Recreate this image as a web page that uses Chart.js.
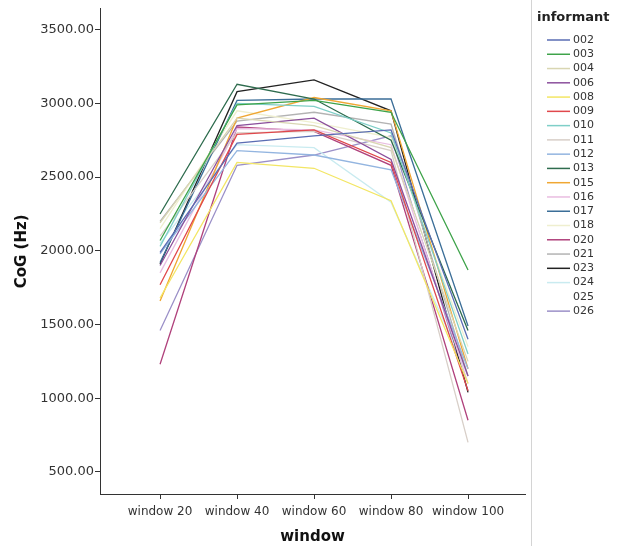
<!DOCTYPE html>
<html>
<head>
<meta charset="utf-8">
<script src="https://cdn.jsdelivr.net/npm/chart.js@4/dist/chart.umd.min.js"></script>
<style>
  html, body { margin: 0; padding: 0; background: #fff; }
  #wrap { width: 622px; height: 546px; }
</style>
</head>
<body>
<div id="wrap"><canvas id="cog"></canvas></div>
<script>
const windows = ['window 20', 'window 40', 'window 60', 'window 80', 'window 100'];
const windowPos = [20, 40, 60, 80, 100];
const yTicks = [500, 1000, 1500, 2000, 2500, 3000, 3500];

const informants = ['002', '003', '004', '006', '008', '009', '010', '011', '012', '013',
                    '015', '016', '017', '018', '020', '021', '023', '024', '025', '026'];
const colors = ['#5a6db3', '#3ea34a', '#d9d6b2', '#8b4f9c', '#f3e664', '#e0484c', '#7fcfc8', '#d8cfc8', '#93b5e0', '#2e6c4e',
                '#f0a733', '#e9bde1', '#3b6e98', '#efefcf', '#b0427c', '#b3b3b3', '#222222', '#c9ebf0', '#ffffff', '#9b90c8'];

const s002 = [1990, 2730, 2780, 2820, 1400];
const s003 = [2070, 2990, 3020, 2940, 1870];
const s004 = [2190, 2900, 2850, 2700, 1250];
const s006 = [1900, 2850, 2900, 2620, 1150];
const s008 = [1680, 2600, 2560, 2340, 1100];
const s009 = [1770, 2790, 2820, 2600, 1050];
const s010 = [2030, 3000, 2980, 2800, 1300];
const s011 = [2100, 2800, 2810, 2680, 700];
const s012 = [1980, 2680, 2650, 2550, 1200];
const s013 = [2250, 3130, 3030, 2750, 1460];
const s015 = [1660, 2900, 3040, 2950, 1200];
const s016 = [1850, 2830, 2820, 2720, 1100];
const s017 = [1920, 3020, 3030, 3030, 1490];
const s018 = [2150, 2950, 2870, 2770, 1350];
const s020 = [1230, 2840, 2810, 2580, 850];
const s021 = [2200, 2880, 2940, 2860, 1150];
const s023 = [1910, 3080, 3160, 2950, 1040];
const s024 = [2050, 2720, 2700, 2330, 1150];
const s025 = [2000, 2850, 2850, 2700, 1200];
const s026 = [1460, 2580, 2650, 2780, 1050];

const series = [s002, s003, s004, s006, s008, s009, s010, s011, s012, s013,
                s015, s016, s017, s018, s020, s021, s023, s024, s025, s026];

const font = "'DejaVu Sans', sans-serif";

// legend drawn by hand so it sits where SPSS puts it
const sideLegend = {
  id: 'sideLegend',
  afterDraw(chart) {
    const ctx = chart.ctx;
    const x0 = chart.chartArea.right + 6;
    ctx.save();
    ctx.strokeStyle = '#d4d4d4';
    ctx.lineWidth = 1;
    ctx.beginPath();
    ctx.moveTo(x0 + 0.5, 0);
    ctx.lineTo(x0 + 0.5, chart.height);
    ctx.stroke();

    ctx.fillStyle = '#222';
    ctx.font = 'bold 13px ' + font;
    ctx.textBaseline = 'middle';
    ctx.fillText('informant', x0 + 6, 18);

    ctx.font = '11px ' + font;
    chart.data.datasets.forEach((ds, i) => {
      const y = 40 + i * 14.27;
      ctx.strokeStyle = ds.borderColor;
      ctx.lineWidth = 1.5;
      ctx.beginPath();
      ctx.moveTo(x0 + 16, y);
      ctx.lineTo(x0 + 39, y);
      ctx.stroke();
      ctx.fillStyle = '#333';
      ctx.fillText(ds.label, x0 + 42, y);
    });
    ctx.restore();
  }
};

new Chart(document.getElementById('cog'), {
  type: 'line',
  data: {
    datasets: series.map((vals, i) => ({
      label: informants[i],
      data: vals.map((v, j) => ({ x: windowPos[j], y: v })),
      borderColor: colors[i],
      backgroundColor: colors[i],
      borderWidth: 1.3,
      pointRadius: 0,
      tension: 0
    }))
  },
  options: {
    responsive: true,
    maintainAspectRatio: false,
    animation: false,
    layout: { padding: { top: 0, right: 97, left: 0, bottom: 0 } },
    scales: {
      x: {
        type: 'linear',
        min: 4.4,
        max: 114.8,
        afterBuildTicks: axis => { axis.ticks = windowPos.map(v => ({ value: v })); },
        afterFit: scale => { scale.height = 52; },
        ticks: {
          callback: (v) => windows[windowPos.indexOf(v)],
          font: { family: font, size: 12 },
          color: '#333',
          padding: 6,
          maxRotation: 0
        },
        grid: { drawOnChartArea: false, tickLength: 5, color: '#333' },
        border: { color: '#333', width: 1 },
        title: { display: true, text: 'window', font: { family: font, size: 15, weight: 'bold' }, color: '#111', padding: { top: 4, bottom: 0 } }
      },
      y: {
        min: 350,
        max: 3642,
        afterBuildTicks: axis => { axis.ticks = yTicks.map(v => ({ value: v })); },
        afterFit: scale => { scale.width = 100; },
        ticks: {
          callback: v => Number(v).toFixed(2),
          font: { family: font, size: 13 },
          color: '#333',
          padding: 1
        },
        grid: { drawOnChartArea: false, tickLength: 5, color: '#333' },
        border: { color: '#333', width: 1 },
        title: { display: true, text: 'CoG (Hz)', font: { family: font, size: 15, weight: 'bold' }, color: '#111', padding: { top: 13, bottom: 0 } }
      }
    },
    plugins: {
      tooltip: { enabled: false },
      legend: { display: false }
    }
  },
  plugins: [sideLegend]
});
</script>
</body>
</html>
